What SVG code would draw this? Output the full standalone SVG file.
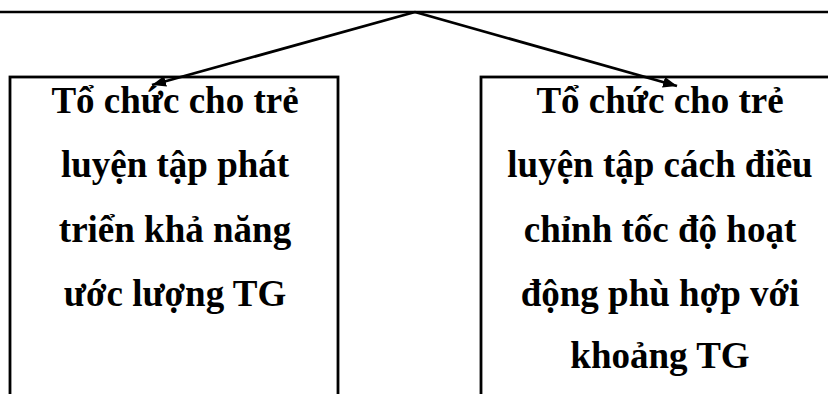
<svg xmlns="http://www.w3.org/2000/svg" width="828" height="394" viewBox="0 0 828 394">
  <defs>
    <marker id="arr" viewBox="0 0 14 11" refX="14" refY="5.5" markerWidth="14" markerHeight="11" markerUnits="userSpaceOnUse" orient="auto">
      <path d="M0,0 L14,5.5 L0,11 Z" fill="#000"/>
    </marker>
  </defs>
  <style>
    .box { fill: #fff; stroke: #000; stroke-width: 2.8; }
    .lbl { font-family: "Liberation Serif", "Times New Roman", serif; font-weight: bold; font-size: 37px; fill: #000; text-anchor: middle; }
    .conn { stroke: #000; stroke-width: 2.8; fill: none; }
  </style>
  <rect width="828" height="394" fill="#fff"/>
  <g id="node-left">
    <rect class="box" x="10" y="77" width="328" height="340"/>
    <text class="lbl" x="175" y="113">Tổ chức cho trẻ</text>
    <text class="lbl" x="175" y="177">luyện tập phát</text>
    <text class="lbl" x="175" y="242">triển khả năng</text>
    <text class="lbl" x="175" y="306">ước lượng TG</text>
  </g>
  <g id="node-right">
    <rect class="box" x="481" y="77" width="360" height="340"/>
    <text class="lbl" x="660" y="113">Tổ chức cho trẻ</text>
    <text class="lbl" x="660" y="177">luyện tập cách điều</text>
    <text class="lbl" x="660" y="242">chỉnh tốc độ hoạt</text>
    <text class="lbl" x="660" y="306">động phù hợp với</text>
    <text class="lbl" x="660" y="368">khoảng TG</text>
  </g>
  <g id="connectors">
    <line x1="0" y1="12" x2="828" y2="12" stroke="#000" stroke-width="2.4"/>
    <line class="conn" x1="415" y1="12" x2="152" y2="85" marker-end="url(#arr)"/>
    <line class="conn" x1="415" y1="12" x2="677" y2="86" marker-end="url(#arr)"/>
  </g>
</svg>
